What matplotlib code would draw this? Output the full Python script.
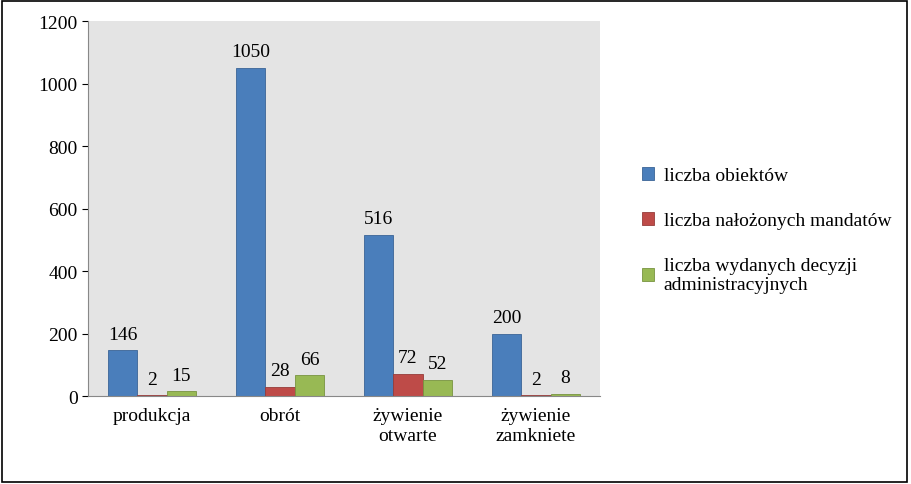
import matplotlib.pyplot as plt
import numpy as np
from matplotlib.patches import Rectangle

plt.rcParams['font.family'] = 'Liberation Serif'

categories = ['produkcja', 'obrót', 'żywienie\notwarte', 'żywienie\nzamkniete']
obiekty = [146, 1050, 516, 200]
mandaty = [2, 28, 72, 2]
decyzje = [15, 66, 52, 8]
series_names = ['liczba obiektów', 'liczba nałożonych mandatów',
                'liczba wydanych decyzji\nadministracyjnych']
colors = ['#4a7ebb', '#be4b48', '#98b954']
edges = ['#3a6496', '#963c3a', '#789440']

fig = plt.figure(figsize=(9.12, 4.85), dpi=100)
fig.patches.append(Rectangle((0.002, 0.004), 0.993, 0.992, transform=fig.transFigure,
                             fill=False, edgecolor='black', linewidth=1.2))
ax = fig.add_axes([0.0965, 0.1814, 0.5614, 0.773])
ax.set_facecolor('#e4e4e4')

x = np.arange(len(categories))
w = 0.23
for i, (vals, c, e, name) in enumerate(zip([obiekty, mandaty, decyzje], colors, edges, series_names)):
    pos = x + (i - 1) * w
    ax.bar(pos, vals, w, color=c, edgecolor=e, linewidth=0.6, label=name)
    for p, v in zip(pos, vals):
        ax.text(p, v + 25, str(v), ha='center', va='bottom', fontsize=14)

ax.set_xlim(-0.5, 3.5)
ax.set_ylim(0, 1200)
ax.set_yticks(range(0, 1201, 200))
ax.set_xticks(x)
ax.set_xticklabels(categories, fontsize=14)
ax.tick_params(axis='y', labelsize=14, direction='out', length=4)
ax.tick_params(axis='x', length=0, pad=8)
for s in ['top', 'right']:
    ax.spines[s].set_visible(False)
ax.spines['left'].set_color('#888888')
ax.spines['bottom'].set_color('#888888')

fig.legend(loc='upper left', bbox_to_anchor=(0.685, 0.69), frameon=False,
           fontsize=14, handlelength=0.6, handleheight=0.7, labelspacing=1.4,
           handletextpad=0.5)

fig.savefig('out.png', dpi=100)
